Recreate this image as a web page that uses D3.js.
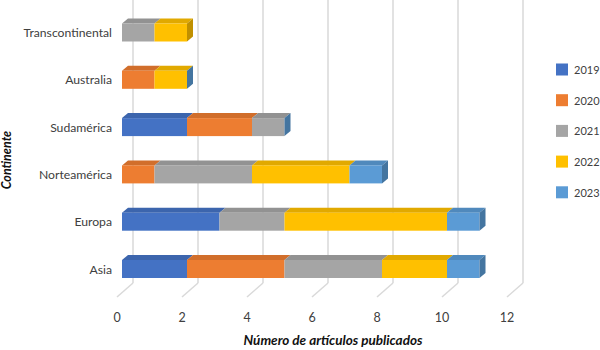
<!DOCTYPE html>
<html>
<head>
<meta charset="utf-8">
<script src="https://cdn.jsdelivr.net/npm/d3@7/dist/d3.min.js"></script>
<style>
  html, body { margin: 0; padding: 0; background: #fff; }
  svg { display: block; }
</style>
</head>
<body>
<svg id="chart" width="600" height="350"></svg>
<script>
// ---- data ----
const categories = ["Transcontinental", "Australia", "Sudamérica", "Norteamérica", "Europa", "Asia"];
const years = ["2019", "2020", "2021", "2022", "2023"];
const v2019 = [null, 0, 2, 0, 3, 2];
const v2020 = [null, 1, 2, 1, 0, 3];
const v2021 = [1, 0, 1, 3, 2, 3];
const v2022 = [1, 1, 0, 3, 5, 2];
const v2023 = [null, 0, 0, 1, 1, 1];
const xTicks = [0, 2, 4, 6, 8, 10, 12];
const xTitle = "Número de artículos publicados";
const yTitle = "Continente";

const seriesValues = [v2019, v2020, v2021, v2022, v2023];
const frontColors = ["#4472C4", "#ED7D31", "#A5A5A5", "#FFC000", "#5B9BD5"];

const svg = d3.select("#chart");
const font = "Lato, 'Open Sans', sans-serif";

// ---- scales ----
const x = d3.scaleLinear().domain([0, 12]).range([122, 512]);
const y = d3.scalePoint().domain(categories).range([32.5, 269]);
const barH = 18;
const dX = 6, dY = -5;          // bar depth
const wallDx = 11, floorDx = -5; // wall / floor offsets from bar front
const wallTop = 0, wallBottom = 283, floorFront = 297;

// ---- gridlines (back wall + floor) ----
const grid = svg.append("g");
xTicks.forEach(t => {
  const xb = x(t) + wallDx;
  grid.append("line")
    .attr("x1", xb).attr("x2", xb).attr("y1", wallTop).attr("y2", wallBottom)
    .attr("stroke", "#d9d9d9").attr("stroke-width", 1.5);
  grid.append("line")
    .attr("x1", xb).attr("x2", x(t) + floorDx).attr("y1", wallBottom).attr("y2", floorFront)
    .attr("stroke", "#d9d9d9").attr("stroke-width", 1.5);
});

// ---- x tick labels ----
svg.append("g").selectAll("text").data(xTicks).join("text")
  .attr("x", d => x(d) + floorDx).attr("y", 322)
  .attr("text-anchor", "middle")
  .attr("font-family", font).attr("font-size", 12.5).attr("fill", "#404040")
  .text(d => d);

// ---- category labels ----
svg.append("g").selectAll("text").data(categories).join("text")
  .attr("x", 112).attr("y", d => y(d) + 4.5)
  .attr("text-anchor", "end")
  .attr("font-family", font).attr("font-size", 12.2).attr("fill", "#404040")
  .text(d => d);

// ---- 3D stacked bars ----
const bars = svg.append("g");
categories.forEach((cat, i) => {
  const yc = y(cat);
  const yTop = yc - barH / 2;
  let cum = 0;
  let lastSide = null;
  seriesValues.forEach((vals, s) => {
    const v = vals[i];
    if (v === null) return;
    const a = cum, b = cum + v;
    cum = b;
    const col = d3.color(frontColors[s]);
    const topCol = col.darker(0.35).formatHex();
    const sideCol = col.darker(0.8).formatHex();
    if (v > 0) {
      const xa = x(a), xb = x(b);
      bars.append("path")
        .attr("d", `M${xa},${yTop}L${xb},${yTop}L${xb + dX},${yTop + dY}L${xa + dX},${yTop + dY}Z`)
        .attr("fill", topCol);
      bars.append("rect")
        .attr("x", xa).attr("y", yTop).attr("width", xb - xa).attr("height", barH)
        .attr("fill", frontColors[s]);
    }
    lastSide = { x: x(b), color: sideCol };
  });
  if (lastSide) {
    const xs = lastSide.x;
    bars.append("path")
      .attr("d", `M${xs},${yTop}L${xs + dX},${yTop + dY}L${xs + dX},${yTop + barH + dY}L${xs},${yTop + barH}Z`)
      .attr("fill", lastSide.color);
  }
});

// ---- legend ----
const legend = svg.append("g");
years.forEach((yr, s) => {
  const cy = 69.5 + s * 30.7;
  legend.append("rect")
    .attr("x", 556).attr("y", cy - 6).attr("width", 12).attr("height", 12)
    .attr("fill", frontColors[s]);
  legend.append("text")
    .attr("x", 574).attr("y", cy + 4.5)
    .attr("font-family", font).attr("font-size", 11).attr("fill", "#404040")
    .text(yr);
});

// ---- axis titles ----
svg.append("text")
  .attr("x", 333).attr("y", 345)
  .attr("text-anchor", "middle")
  .attr("font-family", font).attr("font-size", 13.5)
  .attr("font-weight", "bold").attr("font-style", "italic").attr("fill", "#111")
  .text(xTitle);

svg.append("text")
  .attr("transform", "translate(11,160) rotate(-90)")
  .attr("text-anchor", "middle")
  .attr("font-family", font).attr("font-size", 12.5)
  .attr("font-weight", "bold").attr("font-style", "italic").attr("fill", "#111")
  .text(yTitle);
</script>
</body>
</html>
